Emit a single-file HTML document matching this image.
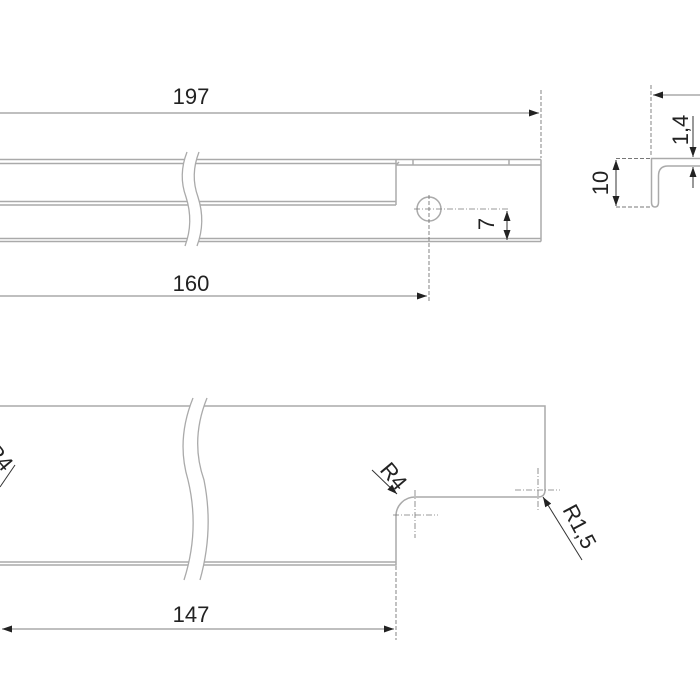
<!DOCTYPE html>
<html><head><style>body{margin:0;background:#fff}svg{display:block}</style></head><body>
<svg width="700" height="700" viewBox="0 0 700 700" xmlns="http://www.w3.org/2000/svg" font-family="Liberation Sans, Arial, sans-serif">
<defs>
<marker id="a" viewBox="0 0 10 10" refX="10" refY="5" markerWidth="10" markerHeight="10" orient="auto-start-reverse" markerUnits="userSpaceOnUse"><path d="M0,1.5 L10,5 L0,8.5z" fill="#222"/></marker>
</defs>
<g stroke="#aaa" stroke-width="1.5" fill="none">
<line x1="0" y1="159.5" x2="541" y2="159.5"/>
<line x1="0" y1="163.5" x2="396" y2="163.5"/>
<line x1="396" y1="165" x2="541" y2="165"/>
<line x1="396" y1="159.5" x2="396" y2="205"/>
<line x1="396" y1="165" x2="399" y2="162"/>
<line x1="413" y1="159.5" x2="413" y2="165"/>
<line x1="509" y1="159.5" x2="509" y2="165"/>
<line x1="0" y1="201.5" x2="396" y2="201.5"/>
<line x1="0" y1="205" x2="396" y2="205"/>
<line x1="0" y1="238.5" x2="541" y2="238.5"/>
<line x1="0" y1="241.5" x2="541" y2="241.5"/>
<line x1="541" y1="159.5" x2="541" y2="241.5"/>
<circle cx="429" cy="209" r="12"/>
<path d="M0,406 H545 V490 Q545,497 538,497 H415 A19,19 0 0 0 396,516 V565 H0"/>
<line x1="0" y1="562" x2="396" y2="562"/>
<path d="M700,158.5 H651.5 V202 Q651.5,207 655,207 Q658.5,207 658.5,202 V176 Q658.5,166 668,166 H700"/>
</g>
<g fill="#fff" stroke="#aaa" stroke-width="1.3">
<path d="M187,152 Q178,175 186,197 Q194,222 185,246 L197,246 Q206,222 198,197 Q190,175 199,152 Z" stroke="none"/>
<path d="M187,152 Q178,175 186,197 Q194,222 185,246" fill="none"/>
<path d="M199,152 Q190,175 198,197 Q206,222 197,246" fill="none"/>
<path d="M193,398 Q176,440 188,480 Q200,530 184,580 L200,580 Q214,530 204,480 Q190,440 207,398 Z" stroke="none"/>
<path d="M193,398 Q176,440 188,480 Q200,530 184,580" fill="none"/>
<path d="M207,398 Q190,440 204,480 Q214,530 200,580" fill="none"/>
</g>
<g stroke="#777" stroke-width="0.9" fill="none" stroke-dasharray="4,2">
<line x1="541" y1="90" x2="541" y2="158"/>
<line x1="429" y1="195" x2="429" y2="303"/>
<line x1="396" y1="566" x2="396" y2="640"/>
<line x1="651" y1="85" x2="651" y2="157"/>
<line x1="616" y1="158.5" x2="650" y2="158.5"/>
<line x1="616" y1="207" x2="650" y2="207"/>
</g>
<g stroke="#777" stroke-width="0.8" fill="none" stroke-dasharray="6,2,1,2">
<line x1="414" y1="209" x2="510" y2="209"/>
<line x1="415" y1="490" x2="415" y2="538"/>
<line x1="393" y1="515" x2="438" y2="515"/>
<line x1="538" y1="468" x2="538" y2="512"/>
<line x1="515" y1="490" x2="560" y2="490"/>
</g>
<g stroke="#999" stroke-width="1.3" fill="none">
<line x1="0" y1="113" x2="539" y2="113" marker-end="url(#a)"/>
<line x1="0" y1="296" x2="427" y2="296" marker-end="url(#a)"/>
<line x1="2" y1="629" x2="394" y2="629" marker-start="url(#a)" marker-end="url(#a)"/>
<line x1="700" y1="95" x2="653" y2="95" marker-end="url(#a)"/>
</g>
<g stroke="#333" stroke-width="1" fill="none">
<line x1="507" y1="211" x2="507" y2="240" marker-start="url(#a)" marker-end="url(#a)"/>
<line x1="616" y1="160" x2="616" y2="206" marker-start="url(#a)" marker-end="url(#a)"/>
<line x1="693" y1="116" x2="693" y2="157" marker-end="url(#a)"/>
<line x1="693" y1="188" x2="693" y2="167" marker-end="url(#a)"/>
<line x1="372" y1="470" x2="397" y2="494" marker-end="url(#a)"/>
<line x1="582" y1="560" x2="543" y2="497" marker-end="url(#a)"/>
<line x1="15" y1="465" x2="0" y2="487"/>
</g>
<g fill="#222" font-size="22">
<text x="191" y="104" text-anchor="middle">197</text>
<text x="191" y="291" text-anchor="middle">160</text>
<text x="191" y="622" text-anchor="middle">147</text>
<text transform="translate(494,224) rotate(-90)" text-anchor="middle">7</text>
<text transform="translate(608,183) rotate(-90)" text-anchor="middle">10</text>
<text transform="translate(688,130) rotate(-90)" text-anchor="middle">1,4</text>
<text transform="translate(388,481) rotate(50)" text-anchor="middle">R4</text>
<text transform="translate(573,530) rotate(62)" text-anchor="middle">R1,5</text>
<text transform="translate(-6,462) rotate(50)" text-anchor="middle">R4</text>
</g>
</svg>
</body></html>
